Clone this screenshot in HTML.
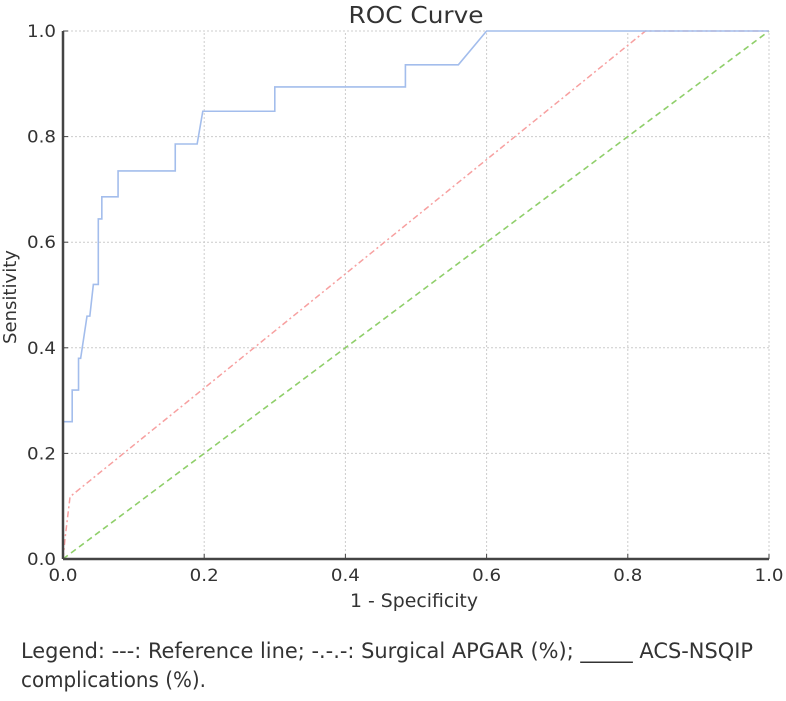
<!DOCTYPE html>
<html><head><meta charset="utf-8"><style>
body{margin:0;background:#fff;}
svg text{font-family:"DejaVu Sans","Liberation Sans",sans-serif;fill:#333;}
</style></head><body>
<svg id="chart" width="786" height="696" viewBox="0 0 786 696" xmlns="http://www.w3.org/2000/svg">
<g id="grid"></g>
<g id="series"></g>
<g id="axes"></g>
<text x="416" y="23" text-anchor="middle" font-size="23" textLength="135" lengthAdjust="spacingAndGlyphs">ROC Curve</text>
<text x="414" y="607" text-anchor="middle" font-size="19" textLength="128" lengthAdjust="spacingAndGlyphs">1 - Specificity</text>
<text transform="translate(16,297) rotate(-90)" text-anchor="middle" font-size="18" textLength="94" lengthAdjust="spacingAndGlyphs">Sensitivity</text>
<text x="21" y="658" font-size="21" fill="#222" textLength="732" lengthAdjust="spacingAndGlyphs">Legend: ---: Reference line; -.-.-: Surgical APGAR (%); _____ ACS-NSQIP</text>
<text x="21" y="687" font-size="21" fill="#222" textLength="185" lengthAdjust="spacingAndGlyphs">complications (%).</text>
</svg>
<script>
const ticks = [0, 0.2, 0.4, 0.6, 0.8, 1.0];
const tickLabels = ["0.0", "0.2", "0.4", "0.6", "0.8", "1.0"];
const nsqipFpr = [0, 0, 0.013, 0.013, 0.022, 0.022, 0.025, 0.034, 0.038, 0.043, 0.05, 0.05, 0.055, 0.055, 0.078, 0.078, 0.159, 0.159, 0.19, 0.198, 0.30, 0.30, 0.485, 0.485, 0.56, 0.60, 1.0];
const nsqipTpr = [0, 0.26, 0.26, 0.32, 0.32, 0.38, 0.38, 0.46, 0.46, 0.52, 0.52, 0.644, 0.644, 0.686, 0.686, 0.735, 0.735, 0.786, 0.786, 0.848, 0.848, 0.894, 0.894, 0.936, 0.936, 1.0, 1.0];
const apgarFpr = [0, 0.003, 0.01, 0.825, 1.0];
const apgarTpr = [0, 0.04, 0.118, 1.0, 1.0];
const refFpr = [0, 1];
const refTpr = [0, 1];

const X0 = 63, X1 = 769, Y0 = 559, Y1 = 31;
const sx = v => X0 + v * (X1 - X0);
const sy = v => Y0 - v * (Y0 - Y1);
const NS = "http://www.w3.org/2000/svg";
function mk(tag, attrs, parent) {
  const e = document.createElementNS(NS, tag);
  for (const k in attrs) e.setAttribute(k, attrs[k]);
  parent.appendChild(e);
  return e;
}
const grid = document.getElementById('grid');
const axes = document.getElementById('axes');
const series = document.getElementById('series');
ticks.forEach((t, i) => {
  if (t > 0) {
    const gv = mk('line', {x1: sx(t), x2: sx(t), y1: Y0, y2: Y1, stroke: '#ccc', 'stroke-dasharray': '2,2', 'stroke-width': 1}, grid);
    
    
    const gh = mk('line', {x1: X0, x2: X1, y1: sy(t), y2: sy(t), stroke: '#ccc', 'stroke-dasharray': '2,2', 'stroke-width': 1}, grid);
    
    
  }
  const xl = mk('text', {x: sx(t), y: 581, 'text-anchor': 'middle', 'font-size': 17, textLength: 29, lengthAdjust: 'spacingAndGlyphs'}, axes);
  xl.textContent = tickLabels[i];
  
  
  const yl = mk('text', {x: 56, y: sy(t) + 6, 'text-anchor': 'end', 'font-size': 17, textLength: 29, lengthAdjust: 'spacingAndGlyphs'}, axes);
  yl.textContent = tickLabels[i];
  
  
  const xt = mk('line', {x1: sx(t), x2: sx(t), y1: Y0, y2: Y0 - 5, stroke: '#444'}, axes);
  
  
  const yt = mk('line', {x1: X0, x2: X0 + 5, y1: sy(t), y2: sy(t), stroke: '#444'}, axes);
  
  
});
const xa = mk('line', {x1: X0, x2: X1, y1: Y0, y2: Y0, stroke: '#444', 'stroke-width': 2.5}, axes);


const ya = mk('line', {x1: X0, x2: X0, y1: Y0, y2: Y1, stroke: '#444', 'stroke-width': 2.5}, axes);


function pts(xs, ys) { return xs.map((v, i) => sx(v) + ',' + sy(ys[i])).join(' '); }
const ref = mk('polyline', {points: pts(refFpr, refTpr), fill: 'none', stroke: '#8fcf6a', 'stroke-width': 1.6, 'stroke-dasharray': '6,4'}, series);


const ap = mk('polyline', {points: pts(apgarFpr, apgarTpr), fill: 'none', stroke: '#f7a0a0', 'stroke-width': 1.5, 'stroke-dasharray': '6,3,2,3'}, series);


const ns = mk('polyline', {points: pts(nsqipFpr, nsqipTpr), fill: 'none', stroke: '#a3bdec', 'stroke-width': 1.6}, series);


</script>
</body></html>
